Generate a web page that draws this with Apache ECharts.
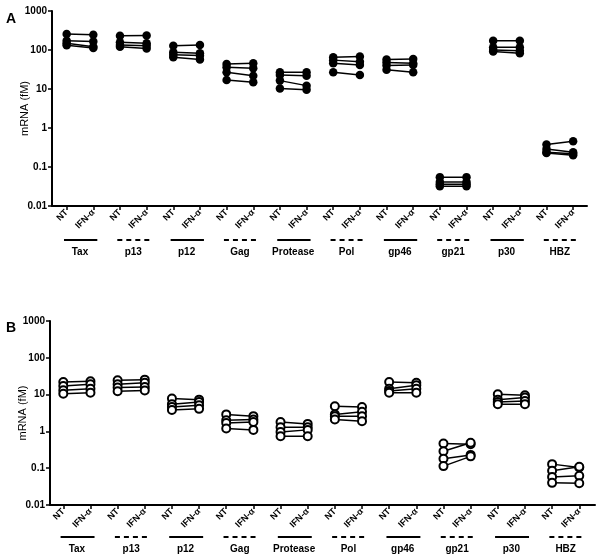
<!DOCTYPE html>
<html><head><meta charset="utf-8">
<script src="https://cdn.jsdelivr.net/npm/echarts@6/dist/echarts.min.js"></script>
<style>html,body{margin:0;padding:0;background:#fff}#c{width:600px;height:559px}</style>
</head><body><div id="c"></div>
<script>
const genes = ['Tax','p13','p12','Gag','Protease','Pol','gp46','gp21','p30','HBZ'];
const condLabels = ['NT','IFN-α'];
const yTicks = [0.01, 0.1, 1, 10, 100, 1000];
// Panel A (4 donors per gene)
const ntA = [
  [257,173,148,132],[233,157,134,122],[129,87,75,65],[44,36,27,17],[27,23,16.4,10.3],
  [65,55,46,27],[57,48,40,31],[0.055,0.041,0.036,0.032],[173,117,100,92],[0.38,0.29,0.24,0.23]
];
const ifnA = [
  [247,166,122,112],[237,148,129,110],[134,82,72,57],[46,34,22,15],[27,22,12.2,9.5],
  [68,50,41,23],[59,46,41,27],[0.055,0.041,0.036,0.032],[173,117,96,82],[0.46,0.24,0.22,0.20]
];
// Panel B
const ntB = [
  [22,17,13.1,10.6],[24.5,19,15.5,12.3],[7.8,5.5,4.6,3.8],[2.9,2.0,1.7,1.2],[1.8,1.3,0.97,0.74],
  [4.8,2.9,2.6,2.1],[22,14.5,12.6,11.3],[0.47,0.29,0.18,0.114],[10.2,7.3,6.3,5.5],[0.129,0.085,0.058,0.040]
];
const ifnB = [
  [23,19,14.5,11.3],[25.5,21,16,13],[7.3,6.3,5.1,4.1],[2.6,2.1,1.8,1.1],[1.6,1.3,1.1,0.74],
  [4.6,3.4,2.6,1.9],[21,18,14.5,11.3],[0.45,0.49,0.23,0.21],[9.6,8.3,6.7,5.5],[0.105,0.11,0.062,0.039]
];

const FONT = 'Liberation Sans, Arial, sans-serif';
const chart = echarts.init(document.getElementById('c'), null, {renderer:'canvas'});
const positions = genes.flatMap((g,i)=>[2*i, 2*i+1]);
const genePos = genes.map((g,i)=>2*i+0.5);

const panels = [
  {nt: ntA, ifn: ifnA, left:52, width:535, top:11, height:195, xmin:-0.55, xmax:19.52, filled:true, lineTop:240},
  {nt: ntB, ifn: ifnB, left:50, width:545, top:321, height:184, xmin:-0.49, xmax:19.58, filled:false, lineTop:537}
];

const grid=[], xAxis=[], yAxis=[], series=[];
panels.forEach((p, pi) => {
  const gMain = grid.length;
  grid.push({left:p.left, top:p.top, width:p.width, height:p.height, containLabel:false, outerBoundsMode:'none'});
  xAxis.push({type:'value', gridIndex:gMain, min:p.xmin, max:p.xmax,
    splitLine:{show:false},
    axisLine:{show:true, onZero:false, lineStyle:{color:'#000', width:2}},
    axisTick:{show:true, customValues:positions, length:4, lineStyle:{color:'#000', width:1.5}},
    axisLabel:{show:true, customValues:positions, rotate:45, margin:5,
      formatter:(v)=>condLabels[Math.round(v)%2], fontFamily:FONT, fontWeight:'bold', fontSize:9, color:'#000'}
  });
  yAxis.push({type:'log', gridIndex:gMain, logBase:10, min:0.01, max:1000,
    name:'mRNA (fM)', nameLocation:'middle', nameGap:22, nameRotate:90, nameMoveOverlap:false,
    nameTextStyle:{fontFamily:FONT, fontSize:11, color:'#000'},
    splitLine:{show:false},
    axisLine:{show:true, onZero:false, lineStyle:{color:'#000', width:2}},
    axisTick:{show:true, length:4, lineStyle:{color:'#000', width:1.5}},
    axisLabel:{fontFamily:FONT, fontWeight:'bold', fontSize:10, color:'#000', margin:5,
      formatter:(v)=>{ const t = yTicks.find(x=>Math.abs(Math.log10(x)-Math.log10(v))<1e-6); return t===undefined?'':String(t);} }
  });
  const xi = xAxis.length-1, yi = yAxis.length-1;
  genes.forEach((g, gi) => {
    for (let d=0; d<4; d++) {
      series.push({type:'line', xAxisIndex:xi, yAxisIndex:yi, silent:true, animation:false,
        data:[[2*gi, p.nt[gi][d]],[2*gi+1, p.ifn[gi][d]]],
        symbol: 'circle', symbolSize: p.filled ? 8.5 : 8,
        itemStyle: p.filled ? {color:'#000'} : {color:'#fff', borderColor:'#000', borderWidth:2},
        lineStyle:{color:'#000', width:1.5}, z: 3});
    }
  });
  // label/underline grid
  const gAux = grid.length;
  grid.push({left:p.left, top:p.lineTop, width:p.width, height:4, containLabel:false, outerBoundsMode:'none'});
  xAxis.push({type:'value', gridIndex:gAux, min:p.xmin, max:p.xmax,
    splitLine:{show:false}, axisLine:{show:false}, axisTick:{show:false},
    axisLabel:{show:true, customValues:genePos, margin:3,
      formatter:(v)=>genes[Math.round((v-0.5)/2)], fontFamily:FONT, fontWeight:'bold', fontSize:10, color:'#000'}
  });
  yAxis.push({type:'value', gridIndex:gAux, min:0, max:1, show:false});
  const xa = xAxis.length-1, ya = yAxis.length-1;
  genes.forEach((g, gi) => {
    series.push({type:'line', xAxisIndex:xa, yAxisIndex:ya, silent:true, animation:false, clip:false,
      symbol:'none', data:[[2*gi-0.1, 1],[2*gi+1.15, 1]],
      lineStyle:{color:'#000', width:2, type: gi%2===0 ? 'solid' : [5,4]}});
  });
});

chart.setOption({
  backgroundColor:'#fff',
  animation:false,
  title:[
    {text:'A', left:1, top:7, textStyle:{fontFamily:FONT, fontWeight:'bold', fontSize:14, color:'#000'}},
    {text:'B', left:1, top:316, textStyle:{fontFamily:FONT, fontWeight:'bold', fontSize:14, color:'#000'}}
  ],
  grid, xAxis, yAxis, series
});
</script></body></html>
